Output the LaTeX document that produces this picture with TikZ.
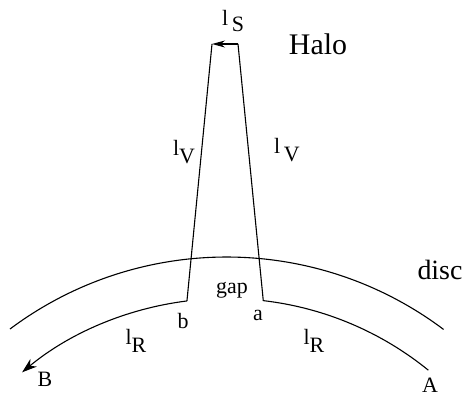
\documentclass[tikz,border=0pt]{standalone}
\usepackage{fontspec}
\setmainfont{Liberation Serif}
\usetikzlibrary{arrows.meta,calc}

\newcommand{\ellsub}[1]{l\raisebox{-.4em}{#1}}
\tikzset{
  lbl/.style={inner sep=0pt,font=\fontsize{22}{26}\selectfont},
  biglbl/.style={inner sep=0pt,font=\fontsize{30}{34}\selectfont},
  walk/.style={-{Stealth[length=15bp,width=10bp]}},
  hop/.style={-{Stealth[length=13bp,width=7bp]}}
}

\begin{document}
\begin{tikzpicture}[x=1bp,y=1bp,line width=1.1bp]
\useasboundingbox (0,0) rectangle (471,397);

\coordinate (O) at (226.5,-221.5);
% edge of the disc
\coordinate (E1) at ($(O)+(126.8:361.5bp)$);
% path along the disc
\coordinate (a) at ($(O)+(83.4:320bp)$);
\coordinate (b) at ($(O)+(97.1:320bp)$);
% top of the loop in the halo
\coordinate (tl) at (212,353);
\coordinate (tr) at (238,353);

\draw (E1) arc[start angle=126.8,end angle=53.1,radius=361.5bp];

\draw (tr) -- (a) arc[start angle=83.4,end angle=50.9,radius=320bp];
\draw[walk] (b) arc[start angle=97.1,end angle=129.7,radius=320bp];
\draw (b) -- (tl);
\draw[hop] (tr) -- (tl);

\node[lbl] (ls) at (233,376) {l\,\raisebox{-.3em}{S}};
\node[biglbl] (halo) at (318,353) {Halo};
\node[lbl] (lvl) at (184,245) {\ellsub{V}};
\node[lbl] (lvr) at (287,247) {l\,\raisebox{-.4em}{V}};
\node[lbl,font=\fontsize{28}{32}\selectfont] (disc) at (440,127) {disc};
\node[lbl] (gap) at (232,107) {gap};
\node[lbl] (lb) at (183,76) {b};
\node[lbl] (la) at (258,82) {a};
\node[lbl] (lrl) at (136,56) {\ellsub{R}};
\node[lbl] (lrr) at (314,56) {\ellsub{R}};
\node[lbl] (lB) at (45,18) {B};
\node[lbl] (lA) at (430,12) {A};

\end{tikzpicture}
\end{document}
